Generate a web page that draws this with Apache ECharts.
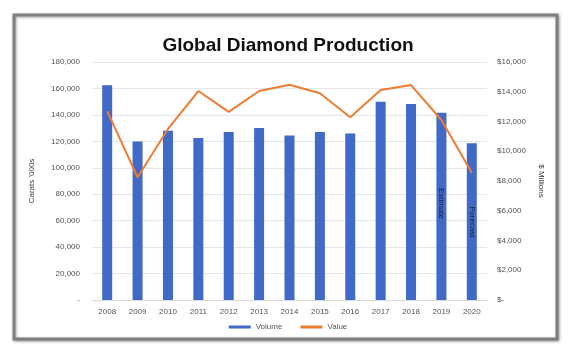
<!DOCTYPE html>
<html><head><meta charset="utf-8">
<script src="https://cdn.jsdelivr.net/npm/echarts@6/dist/echarts.min.js"></script>
<style>html,body{margin:0;padding:0;background:#fff;}#c{width:576px;height:357px;}</style>
</head><body><div id="c"></div>
<script>
const years = ['2008','2009','2010','2011','2012','2013','2014','2015','2016','2017','2018','2019','2020'];
const volume = [162500, 119800, 128000, 122500, 127000, 130000, 124500, 127000, 126000, 150000, 148200, 141700, 118500];
const value = [12700, 8250, 11500, 14050, 12650, 14050, 14470, 13900, 12280, 14120, 14450, 12100, 8560];
const leftTicks = {min: 0, max: 180000, interval: 20000};
const rightTicks = {min: 0, max: 16000, interval: 2000};
const notes = [{year: '2019', at: 73000, text: 'Estimate'}, {year: '2020', at: 59000, text: 'Forecast'}];

const fmt = v => v.toLocaleString('en-US');
const chart = echarts.init(document.getElementById('c'));
const font = 'Liberation Sans, Arial, sans-serif';
chart.setOption({
  animation: false,
  textStyle: {fontFamily: font},
  graphic: [{
    type: 'rect', shape: {x: 14, y: 15, width: 543, height: 324},
    style: {fill: '#fff', stroke: '#7f7f7f', lineWidth: 3,
      shadowColor: 'rgba(0,0,0,0.35)', shadowBlur: 3, shadowOffsetX: 1, shadowOffsetY: 1},
    z: -10, silent: true
  }],
  title: {text: 'Global Diamond Production', left: 'center', top: 31,
    textStyle: {fontSize: 19, fontWeight: 'bold', color: '#111', fontFamily: font}},
  legend: {bottom: 21, left: 'center', itemWidth: 22, itemHeight: 3, itemGap: 18,
    textStyle: {fontSize: 8, color: '#555'},
    data: [{name: 'Volume', icon: 'rect'}, {name: 'Value', icon: 'rect'}]},
  grid: {left: 92, right: 89, top: 62, bottom: 57},
  xAxis: {type: 'category', data: years,
    axisLine: {lineStyle: {color: '#d9d9d9'}}, axisTick: {show: false},
    axisLabel: {fontSize: 8, color: '#555', margin: 8}},
  yAxis: [{
    type: 'value', min: leftTicks.min, max: leftTicks.max, interval: leftTicks.interval,
    name: "Carats '000s", nameLocation: 'middle', nameGap: 56, nameRotate: 90,
    nameTextStyle: {fontSize: 8, color: '#444'},
    axisLabel: {fontSize: 8, color: '#555', margin: 12, formatter: v => v === 0 ? '-' : fmt(v)},
    splitLine: {lineStyle: {color: '#e6e6e6'}}, axisLine: {show: false}, axisTick: {show: false}
  }, {
    type: 'value', min: rightTicks.min, max: rightTicks.max, interval: rightTicks.interval,
    name: '$ Millions', nameLocation: 'middle', nameGap: 45, nameRotate: -90,
    nameTextStyle: {fontSize: 8, color: '#333'},
    axisLabel: {fontSize: 8, color: '#555', margin: 10, formatter: v => v === 0 ? '$-' : '$' + fmt(v)},
    splitLine: {show: false}, axisLine: {show: false}, axisTick: {show: false}
  }],
  series: [{
    name: 'Volume', type: 'bar', data: volume, barWidth: 10, yAxisIndex: 0,
    itemStyle: {color: '#4169c8'},
    markPoint: {symbol: 'rect', symbolSize: 0,
      label: {show: true, rotate: -90, fontSize: 8, color: '#15224a', formatter: p => p.name},
      data: notes.map(n => ({name: n.text, coord: [n.year, n.at]}))}
  }, {
    name: 'Value', type: 'line', data: value, yAxisIndex: 1,
    symbol: 'none', lineStyle: {color: '#ed7d31', width: 2}, itemStyle: {color: '#ed7d31'}
  }]
});
</script></body></html>
